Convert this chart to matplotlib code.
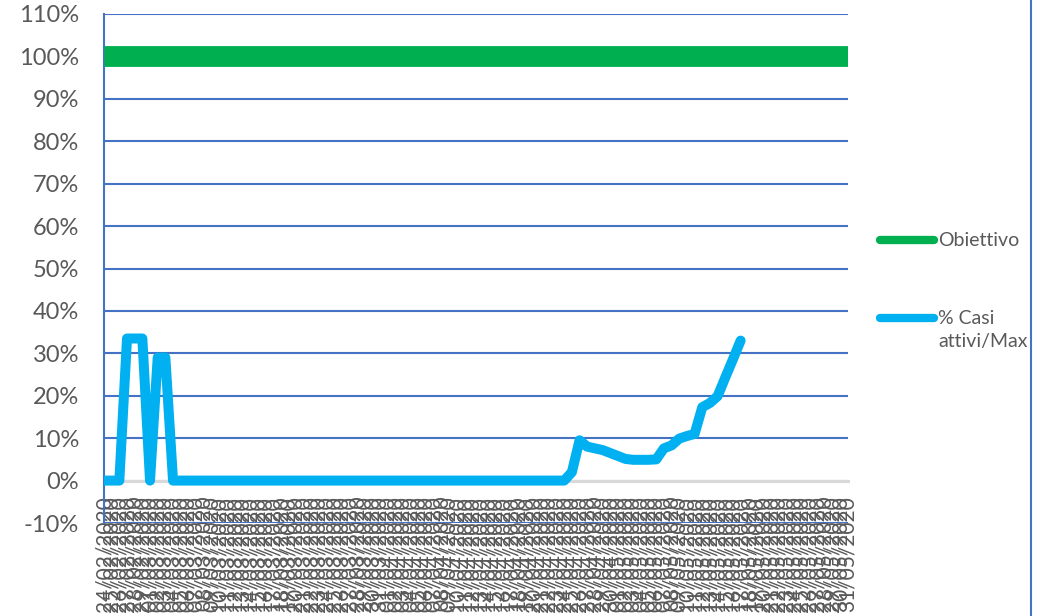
import matplotlib
matplotlib.use("Agg")
import matplotlib.pyplot as plt
from matplotlib.lines import Line2D
import pandas as pd

plt.rcParams['font.family'] = ['Lato', 'DejaVu Sans']

# categorie: un giorno per etichetta
start_date = "2020-02-24"
end_date = "2020-05-31"
dates = pd.date_range(start_date, end_date, freq="D").strftime("%d/%m/%Y").tolist()

obiettivo = [100] * len(dates)

# % casi attivi / max (fino al 17/05)
casi_attivi = [0, 0, 0, 33.5, 33.5, 33.5, 0, 29, 29, 0,
               0, 0, 0, 0, 0, 0, 0, 0, 0, 0,
               0, 0, 0, 0, 0, 0, 0, 0, 0, 0,
               0, 0, 0, 0, 0, 0, 0, 0, 0, 0,
               0, 0, 0, 0, 0, 0, 0, 0, 0, 0,
               0, 0, 0, 0, 0, 0, 0, 0, 0, 0,
               0, 2, 9.5, 8.0, 7.6, 7.2, 6.5, 5.8, 5.1, 4.9,
               4.9, 4.9, 5.0, 7.6, 8.3, 9.9, 10.5, 11.0, 17.3, 18.3,
               19.9, 24.3, 28.6, 33.0]

series_names = ["Obiettivo", "% Casi\nattivi/Max"]
yticks = list(range(-10, 111, 10))

green = "#00B050"
blue = "#00B0F0"
grid_c = "#4472C4"
txt_c = "#595959"

W, H = 1046, 616
fig = plt.figure(figsize=(W / 100, H / 100), dpi=100)
ax = fig.add_axes([104 / W, 1 - 523 / H, 744 / W, 509 / H])

# prima la posizione dello spine (altrimenti resetta le etichette)
ax.spines["bottom"].set_position(("data", 0))

x = list(range(len(dates)))
ax.plot(x, obiettivo, color=green, lw=15, solid_capstyle="butt", zorder=3)
ax.plot(x[:len(casi_attivi)], casi_attivi, color=blue, lw=7.2,
        solid_capstyle="round", solid_joinstyle="round", zorder=3)

ax.set_xlim(0, len(dates) - 1)
ax.set_ylim(-10, 110)
ax.set_yticks(yticks)
ax.set_yticklabels([f"{v}%" for v in yticks])
ax.set_xticks(x)
ax.set_xticklabels(dates, rotation=90, va="top", ha="center")

ax.set_axisbelow(True)
ax.yaxis.grid(True, color=grid_c, lw=1.5)
for s in ["top", "right"]:
    ax.spines[s].set_visible(False)
ax.spines["left"].set_color(grid_c)
ax.spines["left"].set_linewidth(1.5)
ax.spines["bottom"].set_color("#D9D9D9")
ax.spines["bottom"].set_linewidth(2.2)
ax.spines["bottom"].set_zorder(1)

ax.tick_params(axis="y", length=0, pad=18, labelsize=17, labelcolor=txt_c)
ax.tick_params(axis="x", length=0, pad=11, labelsize=15, labelcolor=txt_c)

# legenda a destra
leg_y = [240, 318]
for name, col, yy in zip(series_names, [green, blue], leg_y):
    fig.add_artist(Line2D([880 / W, 934 / W], [1 - yy / H, 1 - yy / H],
                          color=col, lw=6, solid_capstyle="round"))
    fig.text(938 / W, 1 - (yy - 8) / H, name, color=txt_c, fontsize=14,
             va="top", ha="left", linespacing=1.4)

# bordo del grafico
fig.add_artist(Line2D([1031 / W, 1031 / W], [0, 1], color=grid_c, lw=1.5))

fig.savefig("out.png", dpi=100)
